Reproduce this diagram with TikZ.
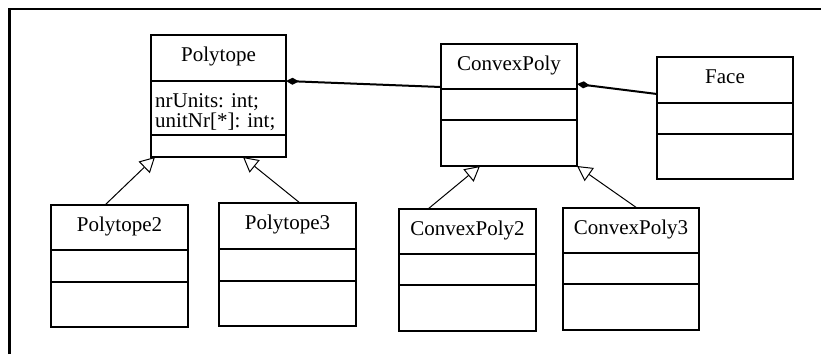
\documentclass[tikz,border=0pt]{standalone}
\usepackage{fontspec}
\setmainfont{Liberation Serif}
\usetikzlibrary{arrows.meta}
\tikzset{
  cls/.style={draw, line width=1.3pt, inner sep=0pt, outer sep=0pt, fill=none},
  clstitle/.style={anchor=base, inner sep=0pt, font=\fontsize{21}{25}\selectfont},
  attr/.style={anchor=base west, inner sep=0pt, font=\fontsize{21}{25}\selectfont},
  sep/.style={line width=1.1pt},
  compo/.style={line width=2pt, {Diamond[fill=black, length=13pt, width=7pt]}-},
  gener/.style={line width=1pt, -{Triangle[open, length=15pt, width=16pt, fill=white]}},
}
\newcommand\umlbox[8]{%
  \node[cls, minimum width={#4-#2}, minimum height={#7-#3}] (#1) at ({(#2+#4)/2},{(#3+#7)/2}) {};
  \node[clstitle] (#1-t) at ({(#2+#4)/2},{(#3+#5)/2+3.5}) {#8};
  \draw[sep] (#2,#5) coordinate (#1-aw) -- (#4,#5) coordinate (#1-ae);
  \draw[sep] (#2,#6) coordinate (#1-bw) -- (#4,#6) coordinate (#1-be);
}
\begin{document}
\begin{tikzpicture}[x=1pt,y=-1pt]
\useasboundingbox (0,0) rectangle (821,354);
\draw[line width=2.2pt] (9.5,354) -- (9.5,9) -- (821,9);
% classes
\umlbox{poly}{151}{35}{286}{81}{135}{157}{Polytope}
\umlbox{cp}{441}{44}{577}{89}{120}{166}{ConvexPoly}
\umlbox{face}{657}{57}{793}{103}{134}{179}{Face}
\umlbox{poly2}{51}{205}{188}{250}{282}{327}{Polytope2}
\umlbox{poly3}{219}{203}{356}{249}{281}{326}{Polytope3}
\umlbox{cp2}{399}{209}{536}{254}{285}{331}{ConvexPoly2}
\umlbox{cp3}{563}{208}{699}{253}{284}{330}{ConvexPoly3}
\node[attr] (a1) at (155,107) {nrUnits: int;};
\node[attr] (a2) at (155,127) {unitNr[*]: int;};
% compositions
\draw[compo] (poly-ae) -- (cp.west |- 0,87);
\draw[compo] (cp.east |- 0,84) -- (face.west |- 0,94);
% generalizations
\draw[gener] ([xshift=54pt]poly2.north west) -- ([xshift=4pt]poly.south west);
\draw[gener] ([xshift=81pt]poly3.north west) -- ([xshift=92pt]poly.south west);
\draw[gener] ([xshift=29pt]cp2.north west) -- ([xshift=39pt]cp.south west);
\draw[gener] ([xshift=74pt]cp3.north west) -- (cp.south east);
\end{tikzpicture}
\end{document}
